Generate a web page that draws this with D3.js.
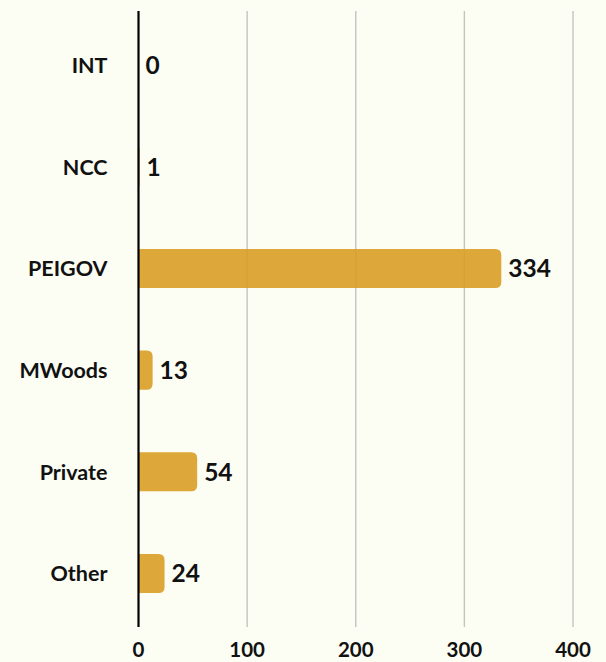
<!DOCTYPE html>
<html>
<head>
<meta charset="utf-8">
<script src="https://cdn.jsdelivr.net/npm/d3@7"></script>
<style>
  html, body { margin: 0; padding: 0; background: #fcfdf3; }
  svg { display: block; font-family: "Lato", "Noto Sans", sans-serif; font-weight: 700; }
</style>
</head>
<body>
<svg id="chart" width="606" height="662"></svg>
<script>
// Records per owner group
const categories = ["INT", "NCC", "PEIGOV", "MWoods", "Private", "Other"];
const counts = [0, 1, 334, 13, 54, 24];
const tickValues = [0, 100, 200, 300, 400];

const svg = d3.select("#chart");
const axisX = 138.5;
const plotTop = 11, plotBottom = 627;

const x = d3.scaleLinear().domain([0, 400]).range([axisX, 573]);
const y = d3.scaleBand()
  .domain(categories)
  .range([14.3, 624.3])
  .paddingInner(0.616)
  .paddingOuter(0.308);

// vertical gridlines
svg.append("g")
  .selectAll("line")
  .data(tickValues.filter(d => d > 0))
  .join("line")
  .attr("x1", d => x(d)).attr("x2", d => x(d))
  .attr("y1", plotTop).attr("y2", plotBottom)
  .attr("stroke", "#c4c4c0")
  .attr("stroke-width", 1.4);

// bars: square at the axis, rounded at the end
function barPath(x0, x1, y0, h) {
  const w = x1 - x0;
  const r = Math.min(6, w, h / 2);
  if (w <= 0) return "";
  return `M${x0},${y0}H${x1 - r}Q${x1},${y0} ${x1},${y0 + r}` +
         `V${y0 + h - r}Q${x1},${y0 + h} ${x1 - r},${y0 + h}H${x0}Z`;
}

const rows = categories.map((c, i) => ({ c, v: counts[i] }));

svg.append("g")
  .selectAll("path")
  .data(rows)
  .join("path")
  .attr("d", d => barPath(x(0), x(d.v), y(d.c), y.bandwidth()))
  .attr("fill", "#d99d26")
  .attr("fill-opacity", 0.9);

// value labels
svg.append("g")
  .selectAll("text")
  .data(rows)
  .join("text")
  .attr("x", d => x(d.v) + 7)
  .attr("y", d => y(d.c) + y.bandwidth() / 2)
  .attr("dy", "0.36em")
  .attr("font-size", 24.5)
  .attr("fill", "#111")
  .text(d => d.v);

// category labels
svg.append("g")
  .selectAll("text")
  .data(categories)
  .join("text")
  .attr("x", 107.5)
  .attr("y", d => y(d) + y.bandwidth() / 2)
  .attr("dy", "0.36em")
  .attr("text-anchor", "end")
  .attr("font-size", 21.5)
  .attr("fill", "#111")
  .text(d => d);

// x tick labels
svg.append("g")
  .selectAll("text")
  .data(tickValues)
  .join("text")
  .attr("x", d => x(d))
  .attr("y", 657)
  .attr("text-anchor", "middle")
  .attr("font-size", 20.5)
  .attr("fill", "#111")
  .text(d => d);

// baseline axis
svg.append("line")
  .attr("x1", axisX).attr("x2", axisX)
  .attr("y1", plotTop).attr("y2", plotBottom)
  .attr("stroke", "#000")
  .attr("stroke-width", 2.2);
</script>
</body>
</html>
